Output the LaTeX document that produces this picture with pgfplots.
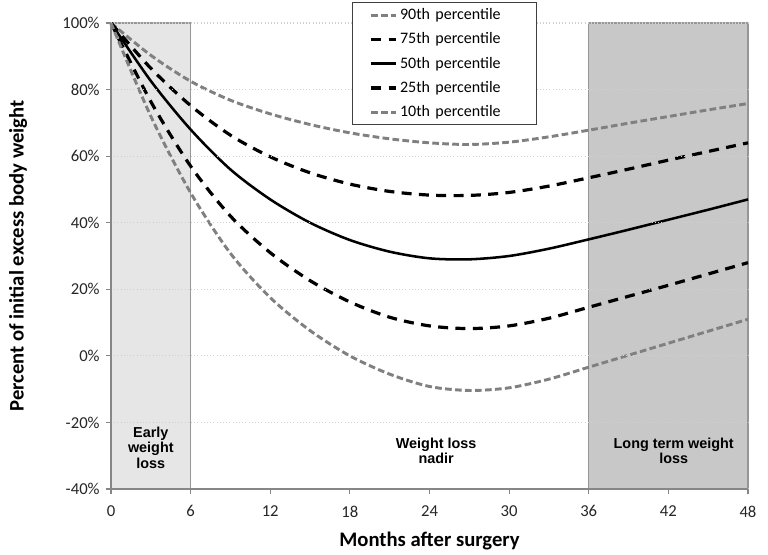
\documentclass[border=0pt]{standalone}
\usepackage{fontspec}
\setmainfont{Carlito}
\newfontfamily\arialfont{Liberation Sans}
\usepackage{pgfplots}
\pgfplotsset{compat=1.18}

\definecolor{lightbox}{HTML}{E6E6E6}
\definecolor{darkbox}{HTML}{C8C8C8}
\definecolor{boxedge}{HTML}{969696}
\definecolor{pgray}{HTML}{808080}
\definecolor{gridc}{HTML}{D0D0D0}
\definecolor{axc}{HTML}{868686}

\begin{document}
\begin{tikzpicture}
\useasboundingbox (-83.25pt,-48.75pt) rectangle (492.75pt,366.75pt);
\begin{axis}[
  scale only axis,
  width=477.75pt, height=349.5pt,
  xmin=0, xmax=48, ymin=-40, ymax=100,
  clip=false,
  axis on top,
  axis x line=bottom, axis y line=left,
  axis line style={-, draw=axc, line width=0.9pt},
  every tick/.style={draw=axc, line width=0.9pt},
  tick align=outside,
  major tick length=4pt,
  xtick={0,6,...,48},
  xticklabels={0,6,12,18,24,30,36,42,48},
  ytick={-40,-20,0,20,40,60,80,100},
  yticklabels={-40\%,-20\%,0\%,20\%,40\%,60\%,80\%,100\%},
  ticklabel style={font=\fontsize{12.5}{14}\selectfont, text=black!85},
  xticklabel style={yshift=-5pt},
  yticklabel style={xshift=-1pt},
  ymajorgrids=true,
  grid style={draw=gridc, dotted, line width=0.8pt},
  xlabel={Months after surgery},
  ylabel={Percent of initial excess body weight},
  label style={font=\bfseries\fontsize{15.5}{17}\selectfont},
  xlabel style={at={(axis description cs:0.5,-0.112)}, anchor=center},
  ylabel style={at={(axis description cs:-0.146,0.5)}, anchor=center, rotate=0},
  legend style={
    at={(axis description cs:0.378,1.045)}, anchor=north west,
    draw=black!75, line width=0.7pt, fill=white,
    font=\fontsize{12}{13.5}\selectfont,
    inner xsep=13pt, inner ysep=2.5pt, row sep=4.4pt,
    nodes={text width=87pt, align=left},
  },
  legend cell align=left,
  legend image code/.code={\draw[#1] (0cm,0cm) -- (0.65cm,0cm);},
]
% shaded phases
\addplot[forget plot, fill=lightbox, draw=boxedge, line width=0.9pt]
  coordinates {(0,-40) (6,-40) (6,100) (0,100) (0,-40)};
\addplot[forget plot, fill=darkbox, draw=boxedge, line width=0.9pt]
  coordinates {(36,-40) (48,-40) (48,100) (36,100) (36,-40)};

% 90th percentile
\addplot[pgray, line width=2.2pt, dash pattern=on 5pt off 2.5pt, smooth] coordinates {
(0,100) (3,90.3) (6,82.5) (9,76.8) (12,72.7) (15,69.5) (18,67) (21,65.2) (24,64)
(27,63.5) (30,64.2) (33,65.8) (36,67.8) (39,69.9) (42,71.9) (45,73.9) (48,75.8)};
\addlegendentry{90th percentile}
% 75th percentile
\addplot[black, line width=2.4pt, dash pattern=on 7.5pt off 5.5pt, smooth] coordinates {
(0,100) (3,86.4) (6,75.2) (9,66.3) (12,59.8) (15,55) (18,51.6) (21,49.4) (24,48.3)
(27,48.2) (30,49.1) (33,51) (36,53.5) (39,56.1) (42,58.8) (45,61.4) (48,64)};
\addlegendentry{75th percentile}
% 50th percentile
\addplot[black, line width=1.9pt, smooth] coordinates {
(0,100) (3,82.6) (6,68) (9,56) (12,47) (15,40) (18,34.8) (21,31.3) (24,29.3)
(27,29) (30,30) (33,32.2) (36,35) (39,37.9) (42,40.9) (45,43.9) (48,47)};
\addlegendentry{50th percentile}
% 25th percentile
\addplot[black, line width=2.4pt, dash pattern=on 7.5pt off 5.5pt, smooth] coordinates {
(0,100) (3,76.4) (6,57) (9,42) (12,31) (15,22.6) (18,16.2) (21,11.6) (24,9)
(27,8.2) (30,9) (33,11.3) (36,14.6) (39,17.9) (42,21.2) (45,24.6) (48,28)};
\addlegendentry{25th percentile}
% 10th percentile
\addplot[pgray, line width=2.2pt, dash pattern=on 5pt off 2.5pt, smooth] coordinates {
(0,100) (3,72) (6,49) (9,30.8) (12,17.5) (15,7.6) (18,0) (21,-5.5) (24,-9.2)
(27,-10.4) (30,-9.6) (33,-7) (36,-3.4) (39,0.2) (42,3.8) (45,7.4) (48,11)};
\addlegendentry{10th percentile}

% phase annotations
\node[font=\arialfont\bfseries\fontsize{10.8}{11.8}\selectfont, align=center]
  at (axis cs:3,-27.6) {Early\\weight\\loss};
\node[font=\arialfont\bfseries\fontsize{10.8}{11.8}\selectfont, align=center]
  at (axis cs:24.5,-28.5) {Weight loss\\nadir};
\node[font=\arialfont\bfseries\fontsize{10.8}{11.8}\selectfont, align=center]
  at (axis cs:42.4,-28.5) {Long term weight\\loss};
\end{axis}
\end{tikzpicture}
\end{document}
